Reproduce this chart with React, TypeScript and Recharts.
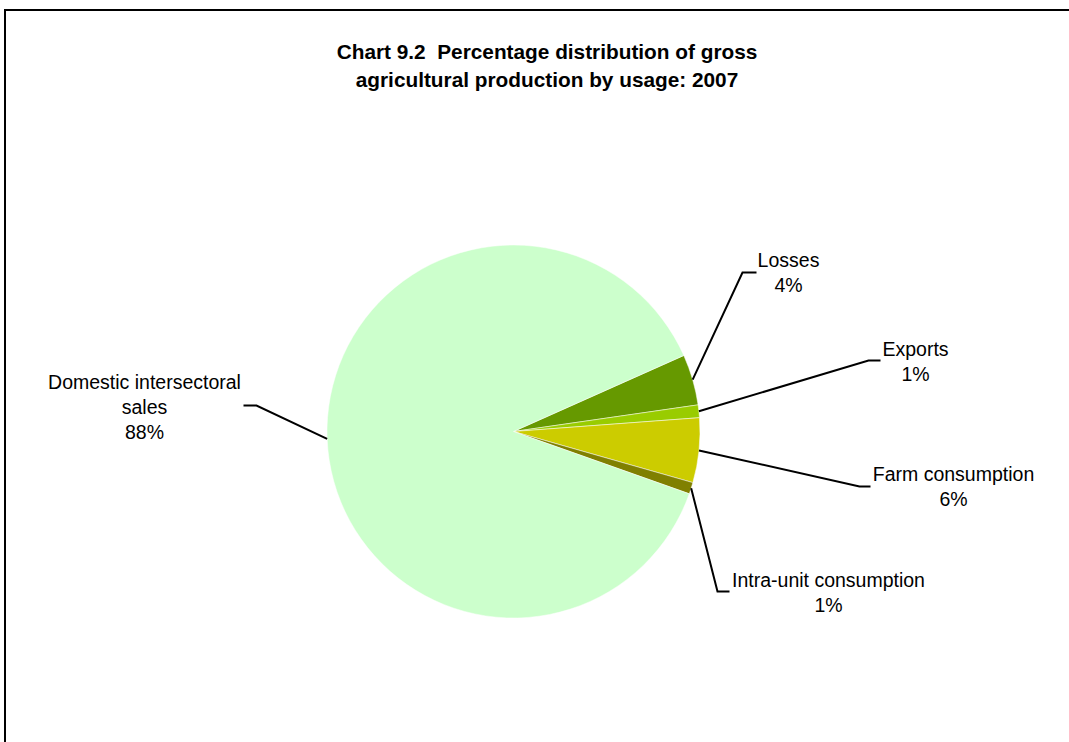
import { PieChart, Pie, Cell } from 'recharts';

const CATEGORIES = [
  'Losses',
  'Exports',
  'Farm consumption',
  'Intra-unit consumption',
  'Domestic intersectoral sales',
];
const SHARES = [4.4, 1.1, 5.6, 1.0, 87.9];

const COLORS = [
  '#669900', // Losses
  '#99CC00', // Exports
  '#CCCC00', // Farm consumption
  '#808000', // Intra-unit
  '#CCFFCC', // Domestic
];

// label text lines (category name wrapped as in the original)
const LABEL_LINES = [
  ['Losses'],
  ['Exports'],
  ['Farm consumption'],
  ['Intra-unit consumption'],
  ['Domestic intersectoral', 'sales'],
];

// leader line elbow / end and label text centre, relative to pie centre
const LABEL_LAYOUT = [
  { elbow: [229, -159], end: [243, -159], text: [275, -172] },
  { elbow: [355, -71], end: [367, -71], text: [402, -83] },
  { elbow: [346, 55], end: [357, 55], text: [440, 42] },
  { elbow: [204, 160], end: [216, 160], text: [315, 148] },
  { elbow: [-257, -26], end: [-270, -26], text: [-369, -50] },
];

const chartData = CATEGORIES.map((name, i) => ({ name, value: SHARES[i] }));

const RADIAN = Math.PI / 180;
const CX = 513.5;
const CY = 431.5;

const renderLabel = (props: any) => {
  const { cx, cy, midAngle, outerRadius, index, percent } = props;
  const layout = LABEL_LAYOUT[index];
  const sx = cx + outerRadius * Math.cos(-midAngle * RADIAN);
  const sy = cy + outerRadius * Math.sin(-midAngle * RADIAN);
  const ex = cx + layout.elbow[0];
  const ey = cy + layout.elbow[1];
  const fx = cx + layout.end[0];
  const fy = cy + layout.end[1];
  const tx = cx + layout.text[0];
  const ty = cy + layout.text[1];
  const lines = [...LABEL_LINES[index], `${Math.round(percent * 100)}%`];
  return (
    <g key={`label-${index}`}>
      <polyline
        points={`${sx},${sy} ${ex},${ey} ${fx},${fy}`}
        fill="none"
        stroke="#000"
        strokeWidth={2}
      />
      <text
        x={tx}
        y={ty}
        textAnchor="middle"
        dominantBaseline="central"
        fontFamily="'Liberation Sans', Arial, sans-serif"
        fontSize={19.5}
        fill="#000"
      >
        {lines.map((l, i) => (
          <tspan key={i} x={tx} dy={i === 0 ? 0 : 25}>
            {l}
          </tspan>
        ))}
      </text>
    </g>
  );
};

export default function App() {
  return (
    <div
      style={{
        position: 'fixed',
        left: 0,
        top: 0,
        width: 1069,
        height: 742,
        overflow: 'hidden',
        background: '#fff',
      }}
    >
      <div
        style={{
          position: 'absolute',
          left: 4,
          top: 9,
          width: 1200,
          height: 900,
          border: '2px solid #000',
        }}
      />
      <div
        style={{
          position: 'absolute',
          left: 0,
          top: 38,
          width: 1094,
          textAlign: 'center',
          fontFamily: "'Liberation Sans', Arial, sans-serif",
          fontWeight: 'bold',
          fontSize: 20.8,
          lineHeight: '28px',
          color: '#000',
        }}
      >
        Chart 9.2&nbsp; Percentage distribution of gross
        <br />
        agricultural production by usage: 2007
      </div>
      <div style={{ position: 'absolute', left: 0, top: 0 }}>
        <PieChart
          width={1069}
          height={742}
          margin={{ top: 0, right: 0, bottom: 0, left: 0 }}
        >
          <Pie
            data={chartData}
            dataKey="value"
            nameKey="name"
            cx={CX}
            cy={CY}
            outerRadius={186.5}
            startAngle={24.05}
            endAngle={24.05 - 360}
            stroke="#fff"
            strokeWidth={0.5}
            label={renderLabel}
            labelLine={false}
            isAnimationActive={false}
          >
            {chartData.map((entry, index) => (
              <Cell key={`cell-${index}`} fill={COLORS[index]} />
            ))}
          </Pie>
        </PieChart>
      </div>
    </div>
  );
}
